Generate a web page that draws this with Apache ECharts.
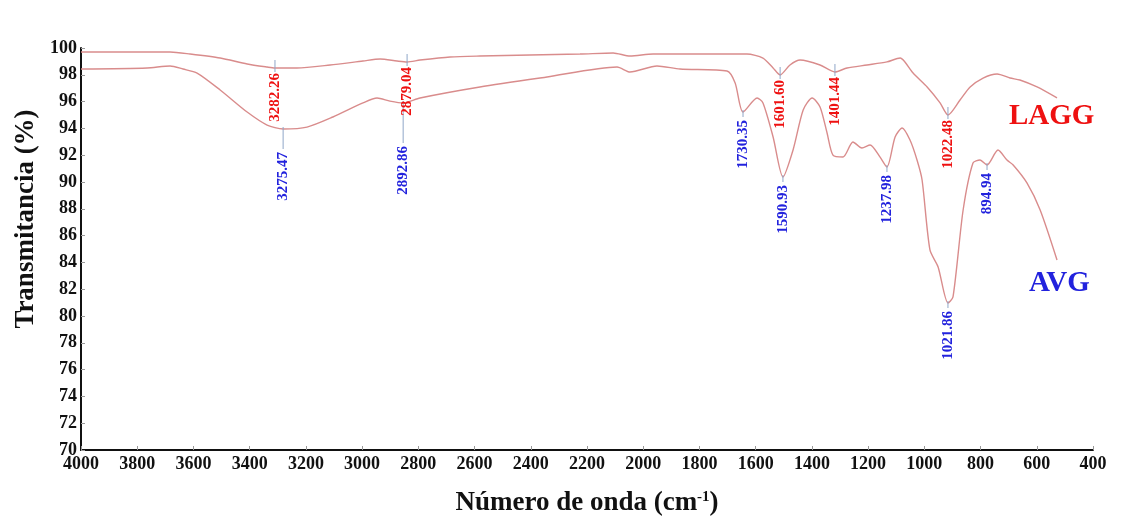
<!DOCTYPE html>
<html>
<head>
<meta charset="utf-8">
<script src="https://cdn.jsdelivr.net/npm/echarts@6/dist/echarts.min.js"></script>
<style>
  html, body { margin: 0; padding: 0; background: #fff; }
  #ftir_chart { width: 1143px; height: 517px; }
</style>
</head>
<body>
<div id="ftir_chart"></div>
<script>
// LAGG espectro (numero de onda, transmitancia)
var laggData = [
  [4000, 99.70], [3683, 99.70], [3612, 99.55], [3505, 99.25], [3409, 98.81], [3338, 98.58],
  [3310, 98.51], [3232, 98.51], [3114, 98.73], [2997, 99.03], [2936, 99.18], [2876, 99.03],
  [2840, 98.96], [2794, 99.10], [2687, 99.33], [2581, 99.40], [2225, 99.55], [2107, 99.63],
  [2047, 99.40], [1965, 99.55], [1798, 99.55], [1631, 99.55], [1574, 99.25], [1538, 98.51],
  [1513, 97.99], [1478, 98.73], [1442, 99.10], [1371, 98.73], [1318, 98.21], [1275, 98.51],
  [1204, 98.73], [1133, 98.96], [1086, 99.25], [1069, 98.96], [1040, 98.13], [990, 97.09],
  [944, 95.90], [916, 95.00], [873, 96.12], [837, 97.09], [791, 97.76], [741, 98.06],
  [695, 97.76], [660, 97.61], [599, 97.09], [528, 96.27]
];

// AVG espectro
var avgData = [
  [4000, 98.43], [3765, 98.51], [3683, 98.66], [3637, 98.43], [3587, 98.13], [3505, 96.87],
  [3409, 95.22], [3338, 94.25], [3281, 93.96], [3196, 94.10], [3104, 94.85], [2997, 95.90],
  [2947, 96.27], [2901, 96.04], [2854, 95.90], [2794, 96.27], [2581, 97.09], [2342, 97.84],
  [2093, 98.58], [2047, 98.21], [1951, 98.66], [1869, 98.43], [1702, 98.28], [1673, 97.39],
  [1645, 95.22], [1595, 96.27], [1574, 95.90], [1538, 93.36], [1503, 90.37], [1467, 92.39],
  [1431, 95.37], [1399, 96.27], [1371, 95.60], [1346, 93.66], [1325, 92.01], [1289, 91.87],
  [1254, 92.99], [1222, 92.54], [1193, 92.76], [1158, 91.87], [1133, 91.12], [1104, 93.36],
  [1079, 94.03], [1051, 93.13], [1026, 91.64], [1008, 90.15], [980, 84.93], [951, 83.66],
  [916, 80.97], [898, 81.42], [862, 87.91], [827, 91.42], [802, 91.64], [777, 91.27],
  [738, 92.39], [706, 91.64], [684, 91.27], [635, 89.93], [588, 87.91], [528, 84.18]
];

// picos marcados [x, y, etiqueta]
var laggPeaks = [
  [3310, 98.51, '3282.26'], [2840, 98.96, '2879.04'], [1513, 97.99, '1601.60'],
  [1318, 98.21, '1401.44'], [916, 95.00, '1022.48']
];
var avgPeaks = [
  [3281, 93.96, '3275.47'], [2854, 95.90, '2892.86'], [1645, 95.22, '1730.35'],
  [1503, 90.37, '1590.93'], [1133, 91.12, '1237.98'], [916, 80.97, '1021.86'],
  [777, 91.27, '894.94']
];

var xTicks = { min: 400, max: 4000, step: 200 };
var yTicks = { min: 70, max: 100, step: 2 };

const lineColor = '#d98c8c';
const redTxt = '#ee1111';
const blueTxt = '#2222dd';
const tickColor = '#8fa6c8';
const serif = '"Liberation Serif", "DejaVu Serif", serif';

// largo de la linea guia (px) para algunos picos
var guideLen = { '3275.47': 22, '2892.86': 42 };

function peakMarks(peaks, color, up) {
  return peaks.map(function (p) {
    var len = guideLen[p[2]] || (up ? 12 : 7);
    return {
      coord: [p[0], p[1]],
      name: p[2],
      symbol: 'rect',
      symbolSize: [1, len],
      symbolOffset: [0, up ? -2 : len / 2 - 2],
      itemStyle: { color: tickColor },
      label: {
        show: true,
        formatter: '{b}',
        position: 'bottom',
        distance: up ? 1 : 3,
        rotate: 90,
        align: 'right',
        verticalAlign: 'middle',
        color: color,
        fontFamily: serif,
        fontWeight: 'bold',
        fontSize: 15
      }
    };
  });
}

var dom = document.getElementById('ftir_chart');
var myChart = echarts.init(dom, null, { renderer: 'canvas' });

var option = {
  animation: false,
  grid: { left: 81, right: 50, top: 48, bottom: 67, outerBoundsMode: 'none', containLabel: false },
  xAxis: {
    type: 'value',
    inverse: true,
    min: xTicks.min,
    max: xTicks.max,
    interval: xTicks.step,
    name: '{t|Número de onda (cm}{s|-1}{t|)}',
    nameLocation: 'middle',
    nameGap: 40,
    nameTextStyle: {
      rich: {
        t: { fontFamily: serif, fontWeight: 'bold', fontSize: 27, color: '#111', verticalAlign: 'bottom' },
        s: { fontFamily: serif, fontWeight: 'bold', fontSize: 15, color: '#111', verticalAlign: 'top' }
      }
    },
    axisLine: { lineStyle: { color: '#111', width: 2 } },
    axisTick: { inside: true, length: 4, lineStyle: { color: '#999' } },
    axisLabel: {
      color: '#111', fontFamily: serif, fontWeight: 'bold', fontSize: 18, margin: 5,
      formatter: function (value) { return String(value); }
    },
    splitLine: { show: false }
  },
  yAxis: {
    type: 'value',
    min: yTicks.min,
    max: yTicks.max,
    interval: yTicks.step,
    name: 'Transmitancia (%)',
    nameLocation: 'middle',
    nameGap: 39,
    nameTextStyle: {
      fontFamily: serif, fontWeight: 'bold', fontSize: 27, color: '#111',
      padding: [0, 0, 0, 60]
    },
    axisLine: { show: true, lineStyle: { color: '#111', width: 2 } },
    axisTick: { show: true, inside: true, length: 4, lineStyle: { color: '#999' } },
    axisLabel: { color: '#111', fontFamily: serif, fontWeight: 'bold', fontSize: 18, margin: 4 },
    splitLine: { show: false }
  },
  series: [
    {
      name: 'LAGG',
      type: 'line',
      data: laggData,
      smooth: 0.25,
      symbol: 'none',
      lineStyle: { color: lineColor, width: 1.4 },
      markPoint: { data: peakMarks(laggPeaks, redTxt, true) },
      z: 3
    },
    {
      name: 'AVG',
      type: 'line',
      data: avgData,
      smooth: 0.25,
      symbol: 'none',
      lineStyle: { color: lineColor, width: 1.4 },
      markPoint: { data: peakMarks(avgPeaks, blueTxt, false) },
      z: 3
    }
  ],
  graphic: [
    {
      type: 'text', left: 1009, top: 102,
      style: { text: 'LAGG', fill: redTxt, font: 'bold 29px ' + serif }
    },
    {
      type: 'text', left: 1029, top: 269,
      style: { text: 'AVG', fill: blueTxt, font: 'bold 29px ' + serif }
    }
  ]
};

if (option && typeof option === 'object') {
  myChart.setOption(option);
}

window.addEventListener('resize', myChart.resize);
</script>
</body>
</html>
